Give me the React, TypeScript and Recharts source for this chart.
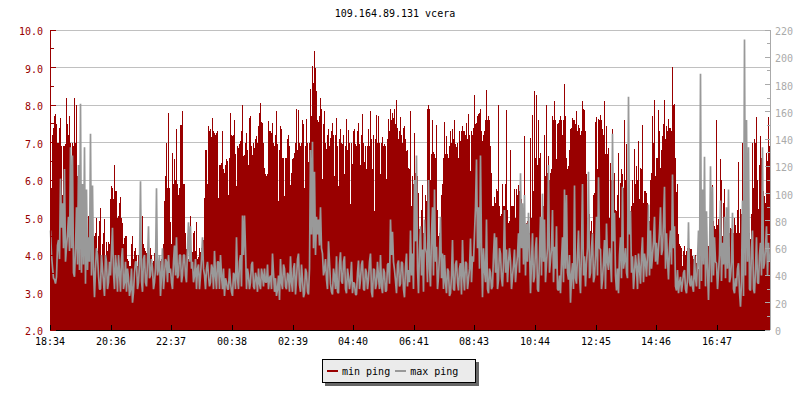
import React from "react";
import { ComposedChart, Bar, Line, XAxis, YAxis, CartesianGrid, Legend } from "recharts";

const TITLE = "109.164.89.131 vcera";
const FONT = "'DejaVu Sans Mono', monospace";
const RED = "#990000";
const GRAY = "#999999";

const timeTickMinutes = [0, 122, 242, 364, 486, 606, 728, 848, 970, 1092, 1212, 1334];
const timeTickLabels = ["18:34", "20:36", "22:37", "00:38", "02:39", "04:40", "06:41", "08:43", "10:44", "12:45", "14:46", "16:47"];
const leftTicks = [2, 2.5, 3, 3.5, 4, 4.5, 5, 5.5, 6, 6.5, 7, 7.5, 8, 8.5, 9, 9.5, 10];
const rightTicks = [0, 10, 20, 30, 40, 50, 60, 70, 80, 90, 100, 110, 120, 130, 140, 150, 160, 170, 180, 190, 200, 210, 220];
const gridValues = [3, 4, 5, 6, 7, 8, 9, 10];

const minPingA = [
  5.85,7.2,7.7,7.5,7.0,7.65,5.6,6.9,8.2,7.2,7.0,7.0,8.2,8.0,6.1,6.15,5.6,4.3,4.9,5.05,4.7,4.6,4.5,5.0,4.5,5.25,4.3,4.95,4.35,4.35,5.5,5.8,6.4,5.7,5.05,5.55,4.85,4.45,4.5,3.85,3.7,4.5,4.1,4.0,4.0,4.75,5.05,4.2,4.05,4.15,4.2,3.8,4.05,3.9,3.8,3.85,4.05,5.45,7.0,7.8,
  4.87,6.73,6.55,7.35,5.6,7.48,7.83,5.9,4.15,3.9,5.05,4.07,4.65,4.87,3.95,4.07,4.15,5.53,6.8,7.45,7.35,7.65,7.25,7.25,5.53,6.4,7.3,6.2,6.57,5.6,7.8,7.17,7.6,5.85,6.85,7.03,8.0,6.68,7.25,6.4,7.7,6.68,6.85,7.17,7.43,8.05,7.52,6.33,6.1,7.58,7.3,7.52,6.9,7.83,5.44,7.45,6.6,5.57,6.6,7.2,
  5.86,6.57,6.73,7.9,7.86,6.91,7.6,5.8,7.64,6.47,8.44,9.04,9.44,8.38,7.55,8.2,6.02,7.84,6.82,7.37,7.13,7.53,6.11,7.65,5.83,7.36,6.96,6.16,7.64,7.33,5.36,6.42,7.36,6.91,7.52,6.39,7.76,6.47,6.29,7.36,7.84,6.29,5.18,7.74,7.71,6.16,7.16,6.96,6.04,7.62,7.89,7.8,7.9,8.13,7.09,7.67,7.0,7.43,6.78,6.31,
  7.83,6.1,7.26,6.24,5.66,4.75,5.88,4.6,5.45,8.0,6.0,7.6,6.7,7.47,4.5,4.87,5.9,7.55,7.17,6.6,7.3,7.35,7.6,6.87,6.6,7.05,7.45,7.3,7.52,7.75,6.24,7.2,8.27,7.52,7.75,7.9,7.03,7.3,8.4,7.7,6.9,5.3,5.55,5.75,8.0,5.05,5.9,5.3,7.87,4.85,6.8,5.3,5.75,5.75,5.88,5.9,5.3,7.17,4.85,4.35,
  7.12,7.74,8.38,8.27,7.6,6.73,4.87,7.2,8.0,6.64,6.2,7.7,8.1,6.55,7.52,7.7,7.2,8.57,6.6,6.37,7.36,7.65,7.6,7.83,7.48,7.2,8.1,7.88,6.15,4.87,4.65,4.6,5.66,7.67,7.63,7.74,7.35,8.1,7.43,6.86,6.46,7.36,6.2,5.18,6.73,5.93,6.15,7.6,6.95,5.3,5.18,6.0,6.83,6.37,7.05,6.33,7.48,5.7,5.66,5.13,
  6.0,7.71,8.13,6.6,7.86,6.33,7.18,8.13,7.44,7.62,7.4,9.02,8.02,5.67,4.56,4.24,3.71,4.23,4.11,4.07,4.16,3.98,3.89,3.8,3.62,4.08,4.08,4.11,4.24,4.24,4.33,5.86,4.78,7.6,4.96,6.56,4.51,5.76,4.6,4.47,4.73,4.78,5.0,4.6,6.47,5.22,7.0,5.58,4.33,5.49,4.42,7.0,7.09,7.69,5.22,7.18,6.2,5.58,6.73,7.67,
];
const minPingB = [
  5.8,7.4,7.75,7.0,7.4,6.9,6.9,6.95,7.5,7.7,5.7,6.9,7.0,6.1,5.4,5.5,4.4,4.9,4.2,4.4,4.5,3.9,4.6,4.1,4.9,4.0,4.6,4.0,4.1,4.3,5.85,5.5,5.7,5.0,5.4,5.0,4.3,4.5,3.9,3.7,4.3,3.9,4.2,3.7,4.5,4.2,4.3,4.1,3.9,3.8,4.0,3.85,3.7,3.8,3.9,3.9,4.3,6.1,5.8,5.8,
  4.3,5.9,6.0,5.9,5.8,7.48,5.9,4.6,4.0,4.3,4.1,4.6,4.1,3.9,4.2,4.2,4.4,6.8,5.9,7.3,7.15,7.3,7.2,7.3,6.4,6.45,6.3,6.4,6.5,6.6,7.2,7.2,6.7,6.9,6.95,7.3,6.65,7.0,6.8,7.65,6.9,7.0,7.1,7.0,7.8,7.55,7.0,6.15,6.15,7.3,7.25,7.0,7.2,6.95,6.8,7.35,6.6,6.6,7.1,6.9,
  6.2,6.6,7.0,6.8,7.0,7.0,7.5,6.9,7.0,7.0,7.7,8.6,9.0,7.6,7.7,7.9,7.5,7.0,7.2,6.9,7.3,7.2,7.2,6.9,7.1,7.0,7.2,6.9,6.8,7.0,7.0,7.3,6.95,7.3,6.95,7.2,7.0,6.9,6.9,6.9,7.1,7.2,7.1,7.0,7.0,7.0,6.9,6.9,7.1,7.3,7.6,7.65,7.5,7.4,7.3,7.2,7.4,7.1,6.8,6.3,
  5.3,5.9,6.2,6.1,4.7,5.2,4.6,5.6,7.9,7.9,6.7,6.75,6.6,5.2,4.6,5.6,6.6,6.7,6.7,6.9,7.0,7.1,6.95,7.0,7.3,7.3,7.3,7.2,7.1,7.2,7.3,7.4,7.5,7.7,7.8,7.3,7.2,7.6,7.6,7.6,6.2,5.3,5.4,5.7,5.3,5.1,5.3,5.9,5.2,4.9,5.3,5.3,5.0,5.6,5.7,5.5,5.2,4.8,4.9,4.6,
  5.0,5.7,6.6,6.4,6.6,5.0,5.3,6.1,6.2,6.0,6.3,7.6,7.6,7.5,7.6,7.6,7.6,7.7,6.3,6.8,7.4,7.6,7.5,7.3,7.4,7.3,7.9,7.3,5.0,5.1,4.9,5.6,7.55,6.3,7.6,7.6,7.2,6.7,6.7,5.0,6.0,6.0,5.2,5.6,5.0,6.3,5.8,6.0,5.2,4.9,5.3,5.4,5.9,6.0,5.5,6.3,5.4,5.7,5.4,4.9,
  6.2,7.0,6.1,6.6,7.3,6.8,7.5,7.1,7.3,7.4,7.3,8.0,6.6,5.9,4.3,4.2,4.1,4.0,4.2,4.2,4.15,3.9,4.0,3.7,3.7,4.1,4.0,4.2,4.25,4.2,4.6,4.9,4.7,4.8,4.5,6.0,5.4,4.6,4.4,4.6,4.7,4.6,4.8,5.2,4.6,5.1,4.9,5.3,5.0,4.6,5.1,5.8,7.0,6.0,6.4,6.6,5.7,5.4,6.5,6.9,
];

const maxPingA = [
  73,46,37,39,66,111,93,118,61,83,134,128,39,90,121,166,107,134,103,68,144,106,24,60,40,30,45,25,50,35,40,75,30,45,55,28,60,35,28,38,30,20,42,50,35,109,28,55,32,76,40,45,35,104,45,25,60,40,50,55,
  45,30,62,68,40,55,40,55,35,79,76,50,40,30,48,40,68,40,45,40,35,45,58,30,50,55,30,25,35,30,35,25,40,68,30,55,84,84,30,40,35,50,30,38,45,30,40,45,35,30,40,56,28,25,40,52,30,45,30,40,
  54,28,49,37,56,28,37,27,42,26,132,138,116,83,81,90,56,44,37,65,34,26,39,54,27,57,34,54,27,39,37,27,34,26,51,37,51,29,42,37,56,24,44,34,39,55,27,42,29,49,81,72,44,27,51,34,49,24,56,44,
  73,56,110,128,27,76,59,81,56,110,32,90,103,61,39,83,56,55,27,43,27,66,29,51,29,49,66,29,49,37,67,54,71,125,90,128,24,44,81,27,42,32,71,68,37,56,32,88,59,49,51,39,59,46,71,115,93,99,78,86,
  27,71,39,68,28,83,100,81,49,121,51,88,61,76,29,27,68,103,99,37,20,49,106,34,73,27,107,54,49,116,42,71,39,83,112,59,37,66,78,44,51,144,86,29,27,68,105,51,42,171,87,54,42,46,56,34,68,56,39,92,
  73,54,83,64,59,90,59,105,71,37,73,114,76,29,27,39,34,44,27,79,32,32,54,32,73,188,103,127,87,22,120,105,68,49,42,95,64,83,90,103,39,86,27,32,49,17,95,213,154,134,29,73,27,68,34,64,134,49,76,64,
];
const maxPingB = [
  55,38,34,62,52,75,60,50,70,58,60,42,60,48,44,42,48,34,44,50,40,45,45,55,30,55,35,55,30,50,58,42,55,28,42,52,30,50,45,25,45,28,50,30,48,36,52,35,50,38,52,30,45,40,55,40,30,52,35,42,
  35,50,40,38,55,35,55,40,60,50,45,35,52,45,30,52,45,30,50,32,48,30,40,50,30,40,45,38,30,45,28,42,30,38,50,32,55,60,45,30,48,32,42,28,34,45,32,35,48,38,30,42,38,30,22,35,48,32,42,28,
  35,45,26,52,33,48,24,45,28,45,70,60,55,70,62,60,40,52,30,50,28,45,30,28,48,36,50,30,45,30,50,35,26,42,30,48,30,45,30,50,28,45,30,50,30,32,45,28,48,34,55,50,36,48,32,50,30,46,32,35,
  40,30,65,45,58,40,28,60,35,45,70,40,50,30,55,38,30,35,45,25,40,30,48,35,45,26,40,50,30,45,35,50,90,60,45,60,60,35,30,45,30,55,42,30,60,38,50,42,35,60,30,48,35,55,42,60,48,40,50,60,
  50,35,60,30,55,40,50,35,60,42,60,35,45,30,40,50,35,45,42,55,40,30,38,55,40,60,40,32,60,38,60,35,55,40,60,30,50,30,50,60,35,65,40,45,55,38,45,60,38,70,42,30,55,30,45,55,35,50,55,40,
  45,65,50,48,72,55,80,45,52,60,48,60,32,44,35,28,42,30,38,35,40,28,38,50,30,36,48,32,45,50,35,40,50,30,55,36,48,38,45,35,50,30,38,45,28,36,25,40,50,30,60,30,45,35,55,40,45,60,40,50,
];

const rows = minPingA.flatMap((v, i) => [
  { t: 1 + i * 4, min: v, max: maxPingA[i] },
  { t: 3 + i * 4, min: minPingB[i], max: maxPingB[i] },
]);

const LeftTick = (p: any) => {
  const v = p.payload.value;
  const major = Number.isInteger(v);
  return (
    <g>
      <line x1={p.x} x2={p.x + (major ? 6 : 4)} y1={p.y} y2={p.y} stroke={RED} shapeRendering="crispEdges" />
      {major && (
        <text x={p.x - 7} y={p.y + 5} textAnchor="end" fontFamily={FONT} fontSize={10} fill={RED}>
          {v.toFixed(1)}
        </text>
      )}
    </g>
  );
};

const RightTick = (p: any) => {
  const v = p.payload.value;
  const major = v % 20 === 0;
  return (
    <g>
      <line x1={p.x} x2={p.x - (major ? 5 : 3)} y1={p.y} y2={p.y} stroke="#aaaaaa" shapeRendering="crispEdges" />
      {major && (
        <text x={p.x + 5} y={p.y + 5} textAnchor="start" fontFamily={FONT} fontSize={10} fill="#aaaaaa">
          {v}
        </text>
      )}
    </g>
  );
};

const BottomTick = (p: any) => {
  const i = timeTickMinutes.indexOf(p.payload.value);
  return (
    <g>
      <line x1={p.x} x2={p.x} y1={p.y} y2={p.y - 5} stroke="#000" shapeRendering="crispEdges" />
      <text x={p.x} y={p.y + 15} textAnchor="middle" fontFamily={FONT} fontSize={10} fill="#000">
        {timeTickLabels[i]}
      </text>
    </g>
  );
};

const LegendBox = (p: any) => (
  <div
    style={{
      width: 148,
      height: 22,
      background: "#ebebeb",
      border: "1px solid #000",
      boxShadow: "3px 3px 0 #666",
      display: "flex",
      alignItems: "center",
      fontFamily: FONT,
      fontSize: 10,
      color: "#000",
      paddingLeft: 4,
      boxSizing: "content-box",
    }}
  >
    {(p.payload || []).map((e: any) => (
      <span key={e.value} style={{ display: "inline-flex", alignItems: "center", marginRight: 5 }}>
        <span style={{ display: "inline-block", width: 11, height: 2, background: e.color, marginRight: 4 }} />
        {e.value}
      </span>
    ))}
  </div>
);

export default function App() {
  return (
    <div style={{ position: "absolute", left: 0, top: 0, width: 800, height: 400 }}>
      <ComposedChart width={800} height={400} data={rows} margin={{ top: 30, right: 0, bottom: 0, left: 0 }} barCategoryGap={0}>
        <text x={395} y={17} textAnchor="middle" fontFamily={FONT} fontSize={10} fill="#000">
          {TITLE}
        </text>
        <CartesianGrid yAxisId="left" vertical={false} horizontalValues={gridValues} stroke="#c0c0c0" shapeRendering="crispEdges" />
        <XAxis
          dataKey="t"
          type="number"
          domain={[0, 1440]}
          ticks={timeTickMinutes}
          interval={0}
          height={70}
          tickLine={false}
          tickSize={0}
          tickMargin={0}
          tick={BottomTick}
          stroke="#000"
          shapeRendering="crispEdges"
        />
        <YAxis
          yAxisId="left"
          orientation="left"
          domain={[2, 10]}
          ticks={leftTicks}
          interval={0}
          width={50}
          tickLine={false}
          tickSize={0}
          tickMargin={0}
          tick={LeftTick}
          stroke={RED}
          shapeRendering="crispEdges"
        />
        <YAxis
          yAxisId="right"
          orientation="right"
          domain={[0, 220]}
          ticks={rightTicks}
          interval={0}
          width={30}
          tickLine={false}
          tickSize={0}
          tickMargin={0}
          tick={RightTick}
          stroke="#aaaaaa"
          shapeRendering="crispEdges"
        />
        <Bar yAxisId="left" dataKey="min" name="min ping" fill={RED} barSize={1} isAnimationActive={false} shapeRendering="crispEdges" />
        <Line yAxisId="right" dataKey="max" name="max ping" stroke={GRAY} strokeWidth={1.7} strokeLinejoin="bevel" dot={false} activeDot={false} type="linear" isAnimationActive={false} />
        <Legend
          layout="horizontal"
          align="center"
          verticalAlign="middle"
          itemSorter={null}
          content={LegendBox}
          wrapperStyle={{ position: "absolute", left: 322, top: 359, width: "auto", height: "auto", bottom: "auto", right: "auto" }}
        />
      </ComposedChart>
    </div>
  );
}
